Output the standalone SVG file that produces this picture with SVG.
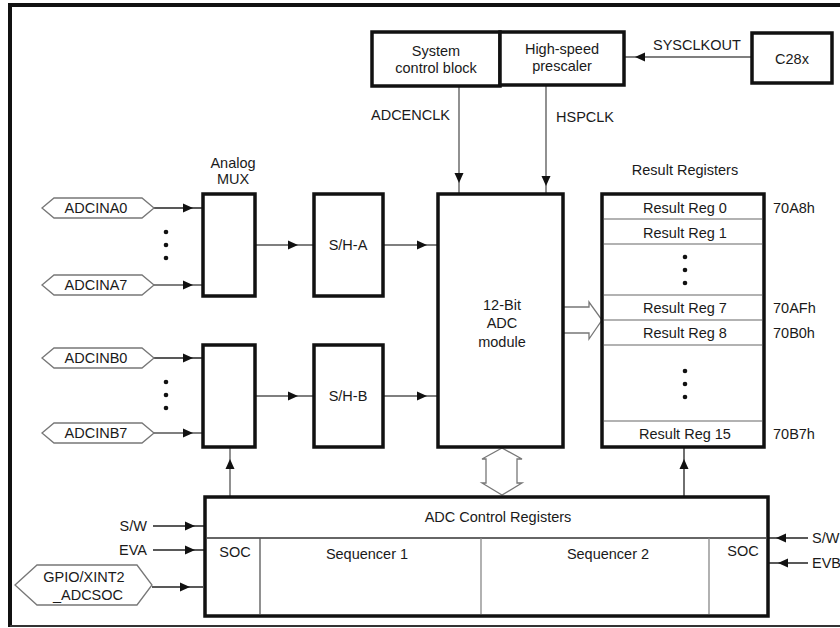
<svg xmlns="http://www.w3.org/2000/svg" xmlns:xlink="http://www.w3.org/1999/xlink" width="840" height="628" viewBox="0 0 840 628">
<style>
text{font-family:"Liberation Sans",Arial,sans-serif;font-size:14.5px;fill:#1a1a1a}
.m{text-anchor:middle}
.e{text-anchor:end}
.box{fill:#fff;stroke:#111;stroke-width:3.5}
.hex{fill:#fff;stroke:#777;stroke-width:1.3}
.ln{stroke:#555;stroke-width:1.3;fill:none}
.dk{stroke:#222;stroke-width:1.3;fill:none}
.div{stroke:#999;stroke-width:1.5}
.hol{fill:#fff;stroke:#777;stroke-width:1.3}
.dot{fill:#111}
</style>
<defs>
<path id="ahR" d="M-10,-4.5 L0,0 L-10,4.5 z" fill="#111"/>
<path id="ahL" d="M10,-4.5 L0,0 L10,4.5 z" fill="#111"/>
<path id="ahD" d="M-4.5,-10 L0,0 L4.5,-10 z" fill="#111"/>
<path id="ahU" d="M-4.5,10 L0,0 L4.5,10 z" fill="#111"/>
<g id="dots3"><circle cx="0" cy="0" r="2.3"/><circle cx="0" cy="13" r="2.3"/><circle cx="0" cy="26" r="2.3"/></g>
</defs>
<rect width="840" height="628" fill="#fff"/>
<g id="frame">
<line x1="10" y1="5" x2="840" y2="5" stroke="#111" stroke-width="4"/>
<line x1="10" y1="3" x2="10" y2="627" stroke="#111" stroke-width="4"/>
<line x1="10" y1="626" x2="840" y2="626" stroke="#333" stroke-width="2"/>
</g>
<g id="connectors">
<line class="ln" x1="752" y1="57" x2="624" y2="57"/><use xlink:href="#ahL" x="635" y="57"/>
<line class="ln" x1="459" y1="86" x2="459" y2="194"/><use xlink:href="#ahD" x="459" y="183"/>
<line class="ln" x1="546" y1="85" x2="546" y2="194"/><use xlink:href="#ahD" x="546" y="186"/>
<line class="dk" x1="154" y1="208" x2="203" y2="208"/><use xlink:href="#ahR" x="193" y="208"/>
<line class="ln" x1="154" y1="285" x2="203" y2="285"/><use xlink:href="#ahR" x="193" y="285"/>
<line class="dk" x1="154" y1="358" x2="203" y2="358"/><use xlink:href="#ahR" x="193" y="358"/>
<line class="ln" x1="154" y1="433" x2="203" y2="433"/><use xlink:href="#ahR" x="193" y="433"/>
<line class="ln" x1="255" y1="245" x2="314" y2="245"/><use xlink:href="#ahR" x="298" y="245"/>
<line class="ln" x1="255" y1="396" x2="314" y2="396"/><use xlink:href="#ahR" x="298" y="396"/>
<line class="ln" x1="383" y1="245" x2="438" y2="245"/><use xlink:href="#ahR" x="427" y="245"/>
<line class="ln" x1="383" y1="396" x2="438" y2="396"/><use xlink:href="#ahR" x="427" y="396"/>
<polygon class="hol" points="563,307 589,307 589,302 602,320 589,339 589,333 563,333"/>
<polygon class="hol" points="502,448 482,459 486,459 486,483 482,483 502,495 522,483 517,483 517,459 522,459"/>
<line class="ln" x1="230" y1="497" x2="230" y2="447"/><use xlink:href="#ahU" x="230" y="459"/>
<line class="dk" x1="684" y1="497" x2="684" y2="447"/><use xlink:href="#ahU" x="684" y="459"/>
<line class="dk" x1="153" y1="526" x2="205" y2="526"/><use xlink:href="#ahR" x="195" y="526"/>
<line class="dk" x1="153" y1="550" x2="205" y2="550"/><use xlink:href="#ahR" x="195" y="550"/>
<line class="dk" x1="152" y1="587" x2="203" y2="587"/><use xlink:href="#ahR" x="190" y="587"/>
<line class="dk" x1="808" y1="538" x2="768" y2="538"/><use xlink:href="#ahL" x="776" y="538"/>
<line class="dk" x1="808" y1="563" x2="768" y2="563"/><use xlink:href="#ahL" x="778" y="563"/>
</g>
<g id="labels">
<text x="653" y="50">SYSCLKOUT</text>
<text x="371" y="120">ADCENCLK</text>
<text x="556" y="122">HSPCLK</text>
<text class="m" x="685" y="175">Result Registers</text>
<text class="m" x="233" y="168">Analog</text>
<text class="m" x="233" y="184">MUX</text>
<text x="773" y="213">70A8h</text>
<text x="773" y="313">70AFh</text>
<text x="773" y="338">70B0h</text>
<text x="773" y="439">70B7h</text>
<text class="e" x="147" y="531">S/W</text>
<text class="e" x="147" y="555">EVA</text>
<text x="812" y="543">S/W</text>
<text x="812" y="568">EVB</text>
<g class="dot"><use xlink:href="#dots3" x="166" y="232"/><use xlink:href="#dots3" x="166" y="382"/></g>
</g>
<g id="sysctrl"><rect class="box" x="372" y="32" width="128" height="54"/><text class="m" x="436" y="56">System</text><text class="m" x="436" y="73">control block</text></g>
<g id="prescaler"><rect class="box" x="500" y="32" width="124" height="53"/><text class="m" x="562" y="54">High-speed</text><text class="m" x="562" y="71">prescaler</text></g>
<g id="c28x"><rect class="box" x="752" y="33" width="80" height="50"/><text class="m" x="792" y="64">C28x</text></g>
<g id="adcina0"><polygon class="hex" points="42,208 54,198 142,198 154,208 142,218 54,218"/><text class="m" x="96" y="213">ADCINA0</text></g>
<g id="adcina7"><polygon class="hex" points="42,285 54,275 142,275 154,285 142,295 54,295"/><text class="m" x="96" y="290">ADCINA7</text></g>
<g id="adcinb0"><polygon class="hex" points="42,358 54,348 142,348 154,358 142,368 54,368"/><text class="m" x="96" y="363">ADCINB0</text></g>
<g id="adcinb7"><polygon class="hex" points="42,433 54,423 142,423 154,433 142,443 54,443"/><text class="m" x="96" y="438">ADCINB7</text></g>
<g id="gpio"><polygon class="hex" points="15,585 37,565 137,565 152,585 137,605 37,605"/><text class="m" x="84" y="582">GPIO/XINT2</text><text class="m" x="88" y="600">_ADCSOC</text></g>
<g id="muxa"><rect class="box" x="203" y="194" width="52" height="102"/></g>
<g id="muxb"><rect class="box" x="203" y="345" width="52" height="102"/></g>
<g id="sha"><rect class="box" x="314" y="194" width="69" height="102"/><text class="m" x="348" y="250">S/H-A</text></g>
<g id="shb"><rect class="box" x="314" y="345" width="69" height="102"/><text class="m" x="348" y="401">S/H-B</text></g>
<g id="adc"><rect class="box" x="438" y="194" width="125" height="253"/><text class="m" x="502" y="310">12-Bit</text><text class="m" x="502" y="328">ADC</text><text class="m" x="502" y="347">module</text></g>
<g id="results">
<rect class="box" x="602" y="194" width="162" height="253"/>
<line class="div" x1="604" y1="219" x2="762" y2="219"/>
<line class="div" x1="604" y1="244" x2="762" y2="244"/>
<line class="div" x1="604" y1="295" x2="762" y2="295"/>
<line class="div" x1="604" y1="320" x2="762" y2="320"/>
<line class="div" x1="604" y1="345" x2="762" y2="345"/>
<line class="div" x1="604" y1="421" x2="762" y2="421"/>
<text class="m" x="685" y="213">Result Reg 0</text>
<text class="m" x="685" y="238">Result Reg 1</text>
<text class="m" x="685" y="313">Result Reg 7</text>
<text class="m" x="685" y="338">Result Reg 8</text>
<text class="m" x="685" y="439">Result Reg 15</text>
<g class="dot"><use xlink:href="#dots3" x="685" y="257"/><use xlink:href="#dots3" x="685" y="371"/></g>
</g>
<g id="ctrlregs">
<rect class="box" x="205" y="497" width="563" height="119"/>
<line x1="207" y1="538" x2="766" y2="538" stroke="#333" stroke-width="1.3"/>
<line x1="260" y1="538" x2="260" y2="614" stroke="#555" stroke-width="1.3"/>
<line x1="481" y1="538" x2="481" y2="614" stroke="#888" stroke-width="1.3"/>
<line x1="709" y1="538" x2="709" y2="614" stroke="#888" stroke-width="1.3"/>
<text class="m" x="498" y="522">ADC Control Registers</text>
<text class="m" x="235" y="557">SOC</text>
<text class="m" x="367" y="559">Sequencer 1</text>
<text class="m" x="608" y="559">Sequencer 2</text>
<text class="m" x="743" y="556">SOC</text>
</g>
</svg>
